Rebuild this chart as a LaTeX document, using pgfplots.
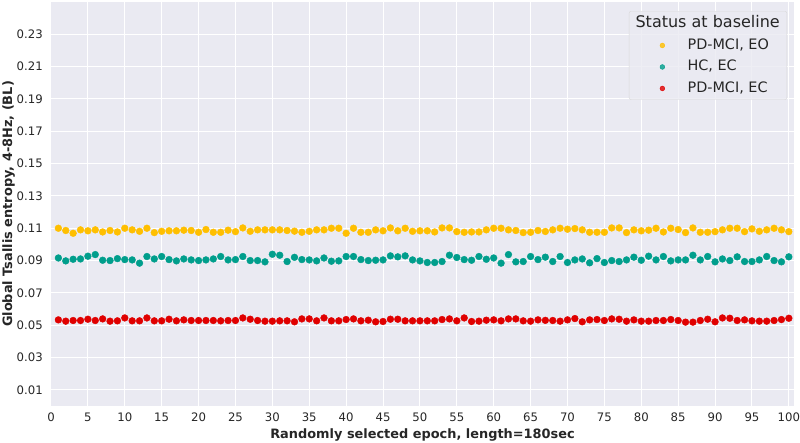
\documentclass[border=0pt]{standalone}
\usepackage{fontspec}
\setmainfont{DejaVu Sans}
\usepackage{pgfplots}
\usepackage{pgfplotstable}
\pgfplotsset{compat=1.18}

\definecolor{bgc}{HTML}{EAEAF2}
\definecolor{txt}{HTML}{262626}
\definecolor{cEO}{RGB}{255,191,0}
\definecolor{cHC}{RGB}{0,158,140}
\definecolor{cPD}{RGB}{224,0,0}

% epoch, PD-MCI EO, HC EC, PD-MCI EC
\pgfplotstableread{
x yo hc pd
1 0.1100 0.0916 0.0533
2 0.1086 0.0898 0.0525
3 0.1069 0.0908 0.0529
4 0.1090 0.0910 0.0529
5 0.1084 0.0927 0.0537
6 0.1090 0.0937 0.0529
7 0.1077 0.0902 0.0539
8 0.1086 0.0900 0.0525
9 0.1077 0.0912 0.0527
10 0.1100 0.0906 0.0545
11 0.1090 0.0904 0.0527
12 0.1081 0.0884 0.0527
13 0.1100 0.0925 0.0545
14 0.1073 0.0910 0.0527
15 0.1081 0.0925 0.0527
16 0.1084 0.0906 0.0537
17 0.1084 0.0898 0.0527
18 0.1088 0.0910 0.0533
19 0.1086 0.0904 0.0529
20 0.1075 0.0900 0.0529
21 0.1092 0.0904 0.0529
22 0.1075 0.0910 0.0529
23 0.1075 0.0925 0.0527
24 0.1088 0.0904 0.0529
25 0.1079 0.0906 0.0529
26 0.1102 0.0925 0.0545
27 0.1081 0.0900 0.0537
28 0.1090 0.0900 0.0529
29 0.1090 0.0892 0.0525
30 0.1090 0.0939 0.0525
31 0.1090 0.0933 0.0527
32 0.1086 0.0894 0.0527
33 0.1082 0.0920 0.0521
34 0.1075 0.0906 0.0539
35 0.1081 0.0904 0.0539
36 0.1090 0.0898 0.0527
37 0.1090 0.0916 0.0545
38 0.1100 0.0896 0.0527
39 0.1100 0.0898 0.0527
40 0.1069 0.0925 0.0535
41 0.1100 0.0925 0.0539
42 0.1075 0.0906 0.0527
43 0.1075 0.0900 0.0531
44 0.1090 0.0902 0.0521
45 0.1084 0.0904 0.0523
46 0.1102 0.0929 0.0537
47 0.1084 0.0923 0.0537
48 0.1100 0.0929 0.0527
49 0.1081 0.0904 0.0527
50 0.1084 0.0898 0.0527
51 0.1084 0.0888 0.0527
52 0.1077 0.0888 0.0527
53 0.1102 0.0894 0.0535
54 0.1102 0.0933 0.0539
55 0.1079 0.0919 0.0527
56 0.1075 0.0906 0.0545
57 0.1077 0.0902 0.0523
58 0.1077 0.0925 0.0525
59 0.1090 0.0908 0.0531
60 0.1100 0.0916 0.0533
61 0.1100 0.0884 0.0527
62 0.1090 0.0937 0.0539
63 0.1086 0.0892 0.0539
64 0.1073 0.0894 0.0527
65 0.1075 0.0925 0.0525
66 0.1086 0.0906 0.0533
67 0.1080 0.0921 0.0530
68 0.1090 0.0894 0.0529
69 0.1100 0.0925 0.0525
70 0.1094 0.0888 0.0533
71 0.1098 0.0904 0.0541
72 0.1090 0.0910 0.0521
73 0.1075 0.0886 0.0533
74 0.1075 0.0912 0.0535
75 0.1075 0.0888 0.0529
76 0.1102 0.0900 0.0539
77 0.1102 0.0894 0.0537
78 0.1073 0.0904 0.0525
79 0.1090 0.0921 0.0533
80 0.1084 0.0902 0.0525
81 0.1088 0.0927 0.0525
82 0.1100 0.0904 0.0529
83 0.1077 0.0925 0.0529
84 0.1100 0.0898 0.0535
85 0.1092 0.0904 0.0529
86 0.1073 0.0904 0.0519
87 0.1102 0.0933 0.0519
88 0.1075 0.0904 0.0529
89 0.1075 0.0925 0.0537
90 0.1079 0.0892 0.0521
91 0.1090 0.0910 0.0545
92 0.1100 0.0900 0.0543
93 0.1100 0.0923 0.0529
94 0.1079 0.0894 0.0533
95 0.1096 0.0894 0.0527
96 0.1081 0.0904 0.0525
97 0.1090 0.0925 0.0525
98 0.1100 0.0900 0.0529
99 0.1090 0.0892 0.0535
100 0.1079 0.0923 0.0543
}\tsallis

\begin{document}
\begin{tikzpicture}
\begin{axis}[
  width=743pt, height=404pt, scale only axis,
  xmin=0, xmax=100.7, ymin=0, ymax=0.25,
  xtick={0,5,...,100},
  ytick={0.01,0.03,0.05,0.07,0.09,0.11,0.13,0.15,0.17,0.19,0.21,0.23},
  yticklabel style={/pgf/number format/fixed,/pgf/number format/precision=2,
    /pgf/number format/fixed zerofill},
  /pgf/number format/assume math mode=true,
  tick label style={font=\fontsize{11.7}{14}\selectfont, text=txt, inner sep=0pt},
  xticklabel shift=7pt, yticklabel shift=8pt,
  grid=major, major grid style={white, line width=1pt},
  axis line style={draw=none}, major tick length=0pt,
  axis background/.style={fill=bgc},
  xlabel={Randomly selected epoch, length=180sec},
  ylabel={Global Tsallis entropy, 4-8Hz, (BL)},
  label style={font=\fontsize{12.9}{15}\selectfont\bfseries, text=txt, inner sep=0pt},
  xlabel style={at={(axis description cs:0.5,-0.05446)}, anchor=north},
  ylabel style={at={(axis description cs:-0.04845,0.5)}, anchor=south, rotate=0},
  legend style={at={(0.9906,0.9777)}, anchor=north east,
    fill=bgc, fill opacity=0.8, text opacity=1, draw=black!15,
    rounded corners=2pt, font=\fontsize{14.4}{17}\selectfont, text=txt,
    inner xsep=3pt, inner ysep=0.5pt,
    nodes={inner xsep=4pt, inner ysep=3.5pt, text height=11pt, text depth=3.5pt}},
  legend cell align=left,
  legend image code/.code={\path (0pt,0pt) (51pt,0pt);
    \draw[mark repeat=2,mark phase=2,#1]
    plot coordinates {(0pt,0pt) (30pt,0pt) (51pt,0pt)};},
  legend image post style={mark size=2.4pt},
]
\addlegendimage{empty legend}
\addlegendentry[font=\fontsize{16}{19}\selectfont, text height=12pt, text depth=4pt]{\hspace*{-52pt}Status at baseline}
\addplot[only marks, mark=*, mark size=3.4pt, color=cEO] table[x=x, y=yo] {\tsallis};
\addlegendentry{PD-MCI, EO}
\addplot[only marks, mark=*, mark size=3.4pt, color=cHC] table[x=x, y=hc] {\tsallis};
\addlegendentry{HC, EC}
\addplot[only marks, mark=*, mark size=3.4pt, color=cPD] table[x=x, y=pd] {\tsallis};
\addlegendentry{PD-MCI, EC}
\end{axis}
\pgfresetboundingbox
\path[use as bounding box] ([shift={(-51pt,-36pt)}]current axis.south west) rectangle ([shift={(6pt,2pt)}]current axis.north east);
\end{tikzpicture}
\end{document}
